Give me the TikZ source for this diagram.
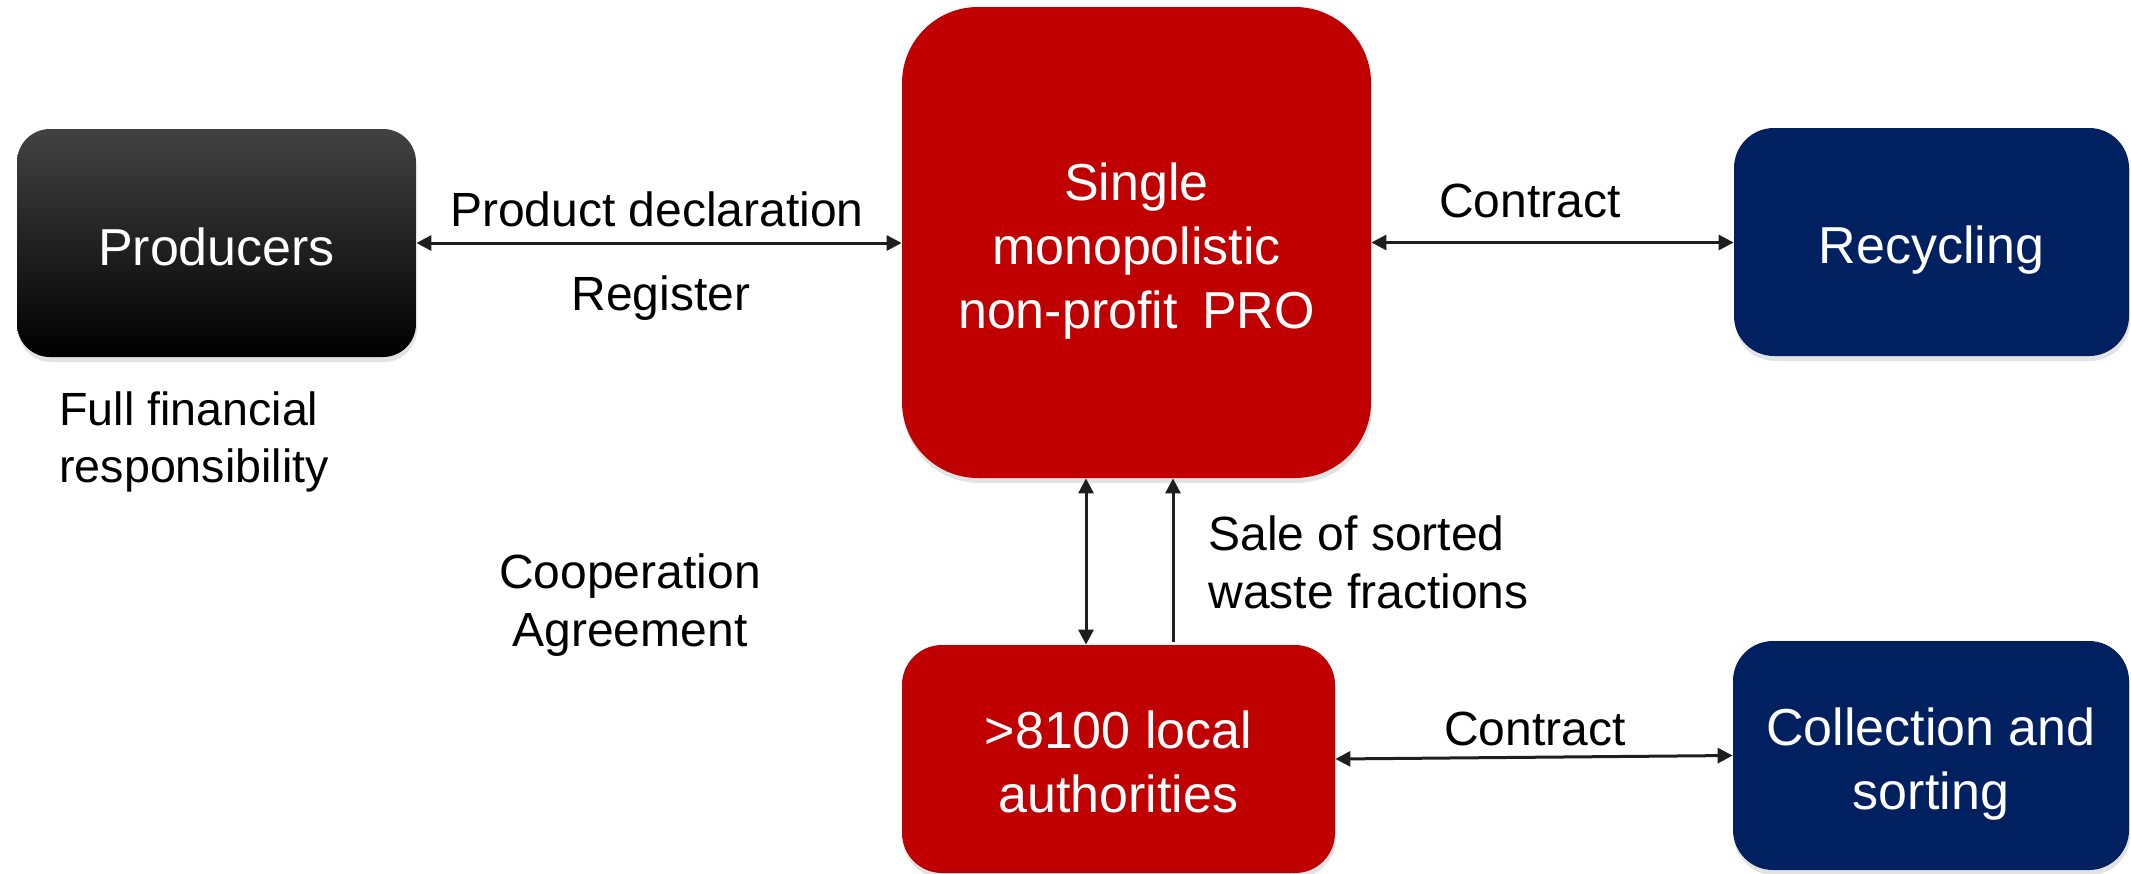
\documentclass[tikz,border=0pt]{standalone}
\usepackage{fontspec}
\setmainfont{Liberation Sans}
\usetikzlibrary{arrows.meta,shadows}
\definecolor{prored}{RGB}{192,0,0}
\definecolor{navyblue}{RGB}{0,32,96}
\definecolor{arrowgray}{RGB}{30,30,30}
% first baseline placed #1 below the node centre, lines 32pt apart
\newcommand\boxlines[2]{\raisebox{-#1}[0pt][0pt]{\begin{tabular}[t]{@{}c@{}}#2\end{tabular}}}
\begin{document}
\begin{tikzpicture}[x=0.5pt,y=-0.5pt,
  box/.style={rounded corners=20pt, text=white,
    font=\fontsize{26}{32}\selectfont, inner sep=0pt,
    drop shadow={opacity=0.22, shadow xshift=0.5pt, shadow yshift=-2.5pt}},
  lbl/.style={font=\fontsize{24}{29}\selectfont, text=black, inner sep=0pt},
  link/.style={draw=arrowgray, line width=1.5pt, {Triangle[length=7.5pt,width=7.5pt]}-{Triangle[length=7.5pt,width=7.5pt]}},
  uplink/.style={draw=arrowgray, line width=1.5pt, -{Triangle[length=7.5pt,width=7.5pt]}},
]
\useasboundingbox (0,0) rectangle (2131,873);

% boxes
\node[box, minimum width=199.5pt, minimum height=114pt, rounded corners=16.5pt,
      top color=black!74, middle color=black, bottom color=black] (prod) at (216.5,243)
      {\boxlines{11pt}{Producers}};
\node[box, fill=prored, minimum width=234.5pt, minimum height=235.5pt, rounded corners=38pt] (pro) at (1136.5,242.5)
      {\boxlines{-21.25pt}{Single\\monopolistic\\non-profit\hspace{5pt} PRO}};
\node[box, fill=navyblue, minimum width=197.5pt, minimum height=114pt] (rec) at (1931.5,242)
      {\boxlines{10.5pt}{Recycling}};
\node[box, fill=prored, minimum width=216.5pt, minimum height=114pt] (loc) at (1118.5,759)
      {\boxlines{-5.5pt}{>8100 local\\authorities}};
\node[box, fill=navyblue, minimum width=198pt, minimum height=114.5pt] (col) at (1931,755.5)
      {\boxlines{-5.25pt}{Collection and\\sorting}};

% labels
\node[lbl, anchor=base] (pd) at (657,226) {Product declaration};
\node[lbl, anchor=base] (reg) at (661,310) {Register};
\node[lbl, anchor=base] (c1) at (1530,217) {Contract};
\node[lbl, anchor=base] (c2) at (1535,745) {Contract};
\node[lbl, font=\fontsize{23.3}{28.5}\selectfont, anchor=west, align=left] (ffr) at (59,441.5) {Full financial\\responsibility};
\node[lbl, anchor=center, align=center] (coop) at (630,605.5) {Cooperation\\Agreement};
\node[lbl, anchor=west, align=left] (sale) at (1208,562) {Sale of sorted\\waste fractions};

% connectors
\coordinate (v1) at (1086,560);
\coordinate (v2) at (1173,560);
\draw[link] (prod.east) -- (pro.west |- prod.east);
\draw[link] (pro.east) -- (rec.west |- pro.east);
\draw[link] (loc.east) -- (col.west);
\draw[link] (pro.south -| v1) -- (loc.north -| v1);
\draw[uplink, shorten <=1.5pt] (loc.north -| v2) -- (pro.south -| v2);
\end{tikzpicture}
\end{document}
